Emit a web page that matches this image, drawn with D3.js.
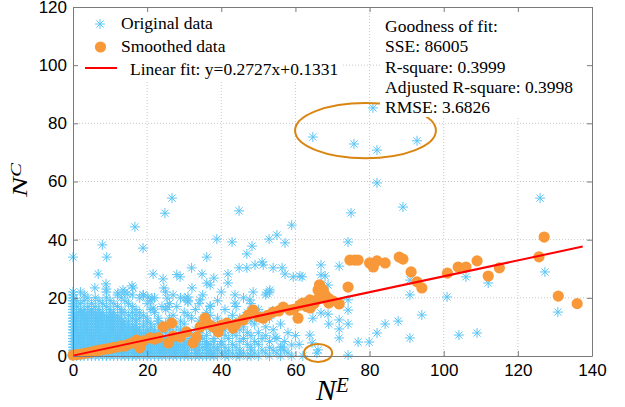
<!DOCTYPE html>
<html>
<head>
<meta charset="utf-8">
<script src="https://cdn.jsdelivr.net/npm/d3@7/dist/d3.min.js"></script>
<style>
  body { margin: 0; background: #fff; }
  svg { display: block; }
</style>
</head>
<body>
<svg id="chart"></svg>
<script>
// Axis ticks
const xTicks = [0, 20, 40, 60, 80, 100, 120, 140];
const yTicks = [0, 20, 40, 60, 80, 100, 120];

// Original data, dense part: [N^C value, list of N^E values]
const originalRows = [
  [0, [0,1,2,3,4,5,6,7,8,9,10,11,12,13,14,15,16,18,20,22,24,26,28,30,32,35,37,39,41,44,47,50,53,56,59,62,
       17,19,21,23,25,27,29,31,33,34,36,38,42,45,48]],
  [1, [0,1,2,3,4,5,6,7,8,9,10,12,14,16,17,19,21,23,25,27,29,31,34,36,38,40,43,46,49,52,55,58,
       11,13,15,18,20,22,24,26,28,30,33,37,41,45]],
  [2, [0,1,2,3,4,5,6,7,8,9,11,13,15,16,18,20,22,24,26,28,30,33,36,39,42,45,48,51,54,57,
       10,12,14,17,19,21,23,25,27,29,31,34,37]],
  [3, [0,1,2,3,4,5,6,8,9,10,12,14,17,19,21,23,25,27,30,32,35,38,41,44,48,53,56,
       7,11,13,15,16,18,20,22,24,26,28,29,33,36,39]],
  [4, [0,1,2,3,4,5,6,7,9,11,13,15,17,20,22,24,26,29,31,34,37,40,43,47,50,61,
       8,10,12,14,16,18,19,21,23,25,27,28,30,33,36]],
  [5, [0,1,2,3,4,5,7,8,10,12,14,16,18,21,23,26,28,31,33,36,40,45,49,53,57,
       6,9,11,13,15,17,19,20,22,24,25,27,30,34,38]],
  [6, [0,1,2,3,4,6,7,9,11,13,15,18,20,22,25,27,30,35,38,42,46,51,55,
       5,8,10,12,14,16,17,19,21,23,24,26,28,32]],
  [7, [0,1,2,3,5,6,8,10,12,14,16,19,21,24,29,32,36,41,44,48,52,60,
       4,7,9,11,13,15,17,18,20,22,23,26,27,34]],
  [8, [0,1,2,3,4,5,7,9,11,13,15,17,20,23,27,31,34,39,43,47,50,58,
       6,8,10,12,14,16,18,19,21,22,25,29]],
  [9, [0,1,2,4,5,6,8,10,12,14,18,22,26,33,37,41,45,54,
       3,7,9,11,13,15,16,17,20,24,29]],
  [10, [0,1,2,3,5,7,9,11,13,16,19,24,28,35,40,46,52,
        4,6,8,10,12,14,15,17,21,26]],
  [11, [0,1,3,4,6,8,10,12,15,21,25,30,38,44,49,56,
        2,5,7,9,11,13,17,19,23]],
  [12, [0,1,2,4,6,7,9,11,14,17,23,29,34,42,48,
        3,5,8,10,12,13,15,20]],
  [13, [0,1,3,5,8,10,13,16,20,26,32,39,45,53,
        2,4,6,7,9,11,12,18,23]],
  [14, [0,2,3,5,7,9,12,15,19,27,31,37,43,51,
        1,4,6,8,10,11,17]],
  [15, [0,1,4,6,8,11,14,18,22,30,36,47,
        2,3,5,7,10,13,16]],
  [16, [0,2,3,5,7,10,13,17,21,25,33,41,50]],
  [17, [0,1,4,6,9,12,16,24,28,37,44]],
  [18, [0,2,5,8,11,15,20,26,34,48]],
  [19, [0,1,3,7,10,14,21,31,39]],
  [20, [0,4,6,9,13,18,22,29,46]],
  [21, [0,3,12,16,19,27,35,52]],
  [22, [0,2,9,14,25,40,53]]
];

// Original data, scattered points [N^E, N^C]
const originalSparse = [
  [0,34],[7.9,38.2],[9.1,34],[6.8,28.2],[5.9,23.4],[8.9,24.8],[9,23],[16.7,44.4],[18.9,37.1],
  [24.8,49.1],[26.7,54.3],[21.6,28.2],[24.3,26.5],[24.5,23.4],[28,28],[28.9,27.2],[32,30.3],
  [34.8,28.2],[36.1,34],[36.1,25.1],[37,24.4],[38,26.8],[38.8,40.2],[41.8,28.2],[41.8,25.1],
  [42.9,39.2],[44.8,49.9],[44.8,30.3],[46.9,35.1],[48.3,37.8],[46.9,30.3],[49.1,31.3],[51.3,31.3],
  [52.9,40.2],[55,41.6],[57.2,38.9],[59,45],[54,30.3],[56.4,30.3],[57.2,28.2],[59.4,27.2],[61.8,27.2],
  [12.1,21.7],[13.5,22.7],[14.6,21.3],[15.9,24.1],[16.2,23.4],[18.9,21],[20.2,20.3],[21.3,19.9],
  [21.6,16.5],[25.4,19.9],[25.6,16.8],[30.2,19.9],[31,20.3],[32.1,23.4],[51,32.3],[61.2,27.5],
  [43.7,21],[48.6,22],[52.3,21.7],[53.1,22.7],[31,18.6],[34.3,19.3],[37,17.2],[43.7,18.2],
  [47.7,19.3],[53.8,15.5],[63.9,7.2],[66.1,2.1],[59,3.8],[54.5,6.5],[56.4,3.1],
  [66.9,31.3],[66.9,27.9],[71.8,30.9],[68.8,24.4],[68,27.5],[90.9,26.1],[90.9,21],[94.1,14.1],
  [87.7,12],[84.2,11],[82,7.9],[79.9,4.8],[76.9,4.8],[74.2,15.8],[74.2,11],[74.2,19.3],
  [71.8,12.4],[71.8,9.3],[71.8,6.2],[68.8,14.4],[69,11],[66.9,14.8],[64.7,13],[64.5,4.5],
  [65.8,1],[74.2,0.3],[90.9,6.2],[126,54.3],[127.3,28.9],[130.8,15.1],[112,25.1],[106,27.2],
  [100.9,20.3],[104.1,7.2],[109,7.9],[82,59.5],[89,51.2],[75,49.2],[74.2,39.2],
  [64.7,75.3],[75.8,72.9],[82,70.8],[92.8,74],[80.9,85.3]
];

// Smoothed data [N^E, N^C]
const smoothedData = [
  [0,0.3],[1,0.5],[2,0.6],[3,0.9],[4,1.1],[5,1.3],[6,1.7],[7,1.9],[8,2.2],[9,2.4],[10,2.6],
  [11,3.0],[12,3.1],[13,3.5],[14,3.4],[15,4.1],[16,4.5],[17.2,5.5],[18,2.8],[19,5.2],[20.8,6.2],
  [22,5.8],[23,6.3],[24.4,10],[26.6,11.3],[25.7,4.5],[27,6.8],[28.9,6.5],[30.6,8.3],[32.4,4.5],
  [33.3,6.5],[34.3,10],[35.6,13],[36.5,11],[37.8,10],[39.2,8.3],[40,10.5],[41.5,11.3],[43.2,9.6],
  [44,11],[45.9,12.4],[47.3,14.1],[48.6,15.8],[50,13.5],[51.3,13],[52.5,14],[54,15.1],[55.5,15.5],
  [56.7,16.8],[58.5,15.8],[59.5,16],[60.7,13],[61.2,17.5],[62,18.2],[63,17],[63.9,19.3],[64,16.5],
  [65,18],[65.8,19.3],[66.1,22.7],[66.5,24.5],[66.6,21.7],[67,20],[67.5,22.7],[68,21],[68.8,19.9],
  [69,18.2],[70,19],[71.8,17.9],[74.2,23.7],[74.7,33],[76,33],[76.9,33],[80,32],[81,30.6],
  [82,32.7],[84.2,32],[88,34],[89,33.3],[91.2,28.9],[92.8,25.5],[94.1,23.4],[101,28.5],
  [103.9,30.6],[106,30.6],[109,32.7],[112,27.5],[115,30.3],[125.7,34.1],[127.1,40.9],
  [130.9,20.6],[136,18]
];

// Linear fit y = a*x + b
const fitSlope = 0.2727;
const fitIntercept = 0.1331;
const fitRange = [0, 137.5];

// Highlight ellipses [cx, cy, rx, ry] in data units
const ellipses = [[78.9, 77.5, 19, 9.5], [66.1, 1.0, 3.8, 3.1]];

const legendLabels = ['Original data', 'Smoothed data', 'Linear fit: y=0.2727x+0.1331'];
const statsLines = ['Goodness of fit:', 'SSE: 86005', 'R-square: 0.3999',
                    'Adjusted R-square: 0.3998', 'RMSE: 3.6826'];

const originalData = [];
originalRows.forEach(r => r[1].forEach(x => originalData.push([x, r[0]])));
originalSparse.forEach(p => originalData.push(p));

// Layout
const W = 625, H = 407;
const margin = { top: 7, right: 33, bottom: 51, left: 73 };
const width = W - margin.left - margin.right;
const height = H - margin.top - margin.bottom;

const blue = '#5cc6f7';
const orange = '#f89838';
const serif = '"Liberation Serif", "Times New Roman", serif';
const sans = '"Liberation Sans", Arial, sans-serif';

const svg = d3.select('#chart')
    .attr('width', W)
    .attr('height', H)
  .append('g')
    .attr('transform', 'translate(' + margin.left + ',' + margin.top + ')');

const x = d3.scaleLinear().domain([0, 140]).range([0, width]);
const y = d3.scaleLinear().domain([0, 120]).range([height, 0]);

// Grid
svg.append('g').selectAll('line')
    .data(xTicks.slice(1, -1))
  .enter().append('line')
    .attr('x1', d => x(d)).attr('x2', d => x(d))
    .attr('y1', 0).attr('y2', height)
    .attr('stroke', '#c8c8c8').attr('stroke-dasharray', '1,2');
svg.append('g').selectAll('line')
    .data(yTicks.slice(1, -1))
  .enter().append('line')
    .attr('y1', d => y(d)).attr('y2', d => y(d))
    .attr('x1', 0).attr('x2', width)
    .attr('stroke', '#c8c8c8').attr('stroke-dasharray', '1,2');

// Original data asterisks
const star = 'M-5,0H5M0,-5V5M-3.6,-3.6L3.6,3.6M-3.6,3.6L3.6,-3.6';
svg.append('g').selectAll('path')
    .data(originalData)
  .enter().append('path')
    .attr('d', star)
    .attr('transform', d => 'translate(' + x(d[0]) + ',' + y(d[1]) + ')')
    .attr('stroke', blue)
    .attr('stroke-width', 1)
    .attr('fill', 'none');

// Smoothed data
svg.append('g').selectAll('circle')
    .data(smoothedData)
  .enter().append('circle')
    .attr('cx', d => x(d[0]))
    .attr('cy', d => y(d[1]))
    .attr('r', 5.6)
    .attr('fill', orange);

// Linear fit
svg.append('line')
    .attr('x1', x(fitRange[0])).attr('y1', y(fitSlope * fitRange[0] + fitIntercept))
    .attr('x2', x(fitRange[1])).attr('y2', y(fitSlope * fitRange[1] + fitIntercept))
    .attr('stroke', '#ff0000')
    .attr('stroke-width', 2);

// Ellipses
svg.append('g').selectAll('ellipse')
    .data(ellipses)
  .enter().append('ellipse')
    .attr('cx', d => x(d[0]))
    .attr('cy', d => y(d[1]))
    .attr('rx', d => x(d[2]) - x(0))
    .attr('ry', d => y(0) - y(d[3]))
    .attr('fill', 'none')
    .attr('stroke', '#d98510')
    .attr('stroke-width', 2);

// Legend
const legend = svg.append('g');
legend.append('rect')
    .attr('x', 1).attr('y', 1).attr('width', 269).attr('height', 72)
    .attr('fill', '#fff');
legend.append('path')
    .attr('d', star)
    .attr('transform', 'translate(27,17)')
    .attr('stroke', blue).attr('fill', 'none');
legend.append('circle')
    .attr('cx', 27.5).attr('cy', 40).attr('r', 5.6)
    .attr('fill', orange);
legend.append('line')
    .attr('x1', 12).attr('x2', 44).attr('y1', 61).attr('y2', 61)
    .attr('stroke', '#ff0000').attr('stroke-width', 2);
legend.selectAll('text')
    .data(legendLabels)
  .enter().append('text')
    .attr('x', (d, i) => i === 2 ? 57 : 48)
    .attr('y', (d, i) => [22, 45, 68][i])
    .style('font-family', serif)
    .style('font-size', '17.5px')
    .text(d => d);

// Goodness of fit box
const stats = svg.append('g');
stats.append('rect')
    .attr('x', 307).attr('y', 1).attr('width', 211).attr('height', 109)
    .attr('fill', '#fff');
stats.selectAll('text')
    .data(statsLines)
  .enter().append('text')
    .attr('x', 312)
    .attr('y', (d, i) => 25 + i * 20.25)
    .style('font-family', serif)
    .style('font-size', '17.5px')
    .text(d => d);

// Axes box
function styleAxis(g) {
  g.select('.domain').attr('stroke', '#7a7a7a');
  g.selectAll('.tick line').attr('stroke', '#7a7a7a');
  g.selectAll('.tick text')
      .style('font-family', sans)
      .style('font-size', '17px')
      .attr('fill', '#000');
}

svg.append('g')
    .attr('transform', 'translate(0,' + height + ')')
    .call(d3.axisBottom(x).tickValues(xTicks).tickSizeInner(-5).tickSizeOuter(0).tickPadding(8))
    .call(styleAxis);
svg.append('g')
    .call(d3.axisLeft(y).tickValues(yTicks).tickSizeInner(-5).tickSizeOuter(0).tickPadding(6))
    .call(styleAxis);
svg.append('g')
    .call(d3.axisTop(x).tickValues(xTicks).tickSizeInner(-5).tickSizeOuter(0).tickFormat(''))
    .call(styleAxis);
svg.append('g')
    .attr('transform', 'translate(' + width + ',0)')
    .call(d3.axisRight(y).tickValues(yTicks).tickSizeInner(-5).tickSizeOuter(0).tickFormat(''))
    .call(styleAxis);

// Axis labels
const xLabel = svg.append('text')
    .attr('x', 243)
    .attr('y', 393)
    .style('font-family', serif)
    .style('font-style', 'italic');
xLabel.append('tspan').style('font-size', '30px').text('N');
xLabel.append('tspan').style('font-size', '21px').attr('dy', -8).text('E');

const yLabel = svg.append('text')
    .attr('transform', 'translate(-46,190) rotate(-90) scale(1,0.68)')
    .style('font-family', serif)
    .style('font-style', 'italic');
yLabel.append('tspan').style('font-size', '30px').text('N');
yLabel.append('tspan').style('font-size', '21px').attr('dy', -9).text('C');
</script>
</body>
</html>
